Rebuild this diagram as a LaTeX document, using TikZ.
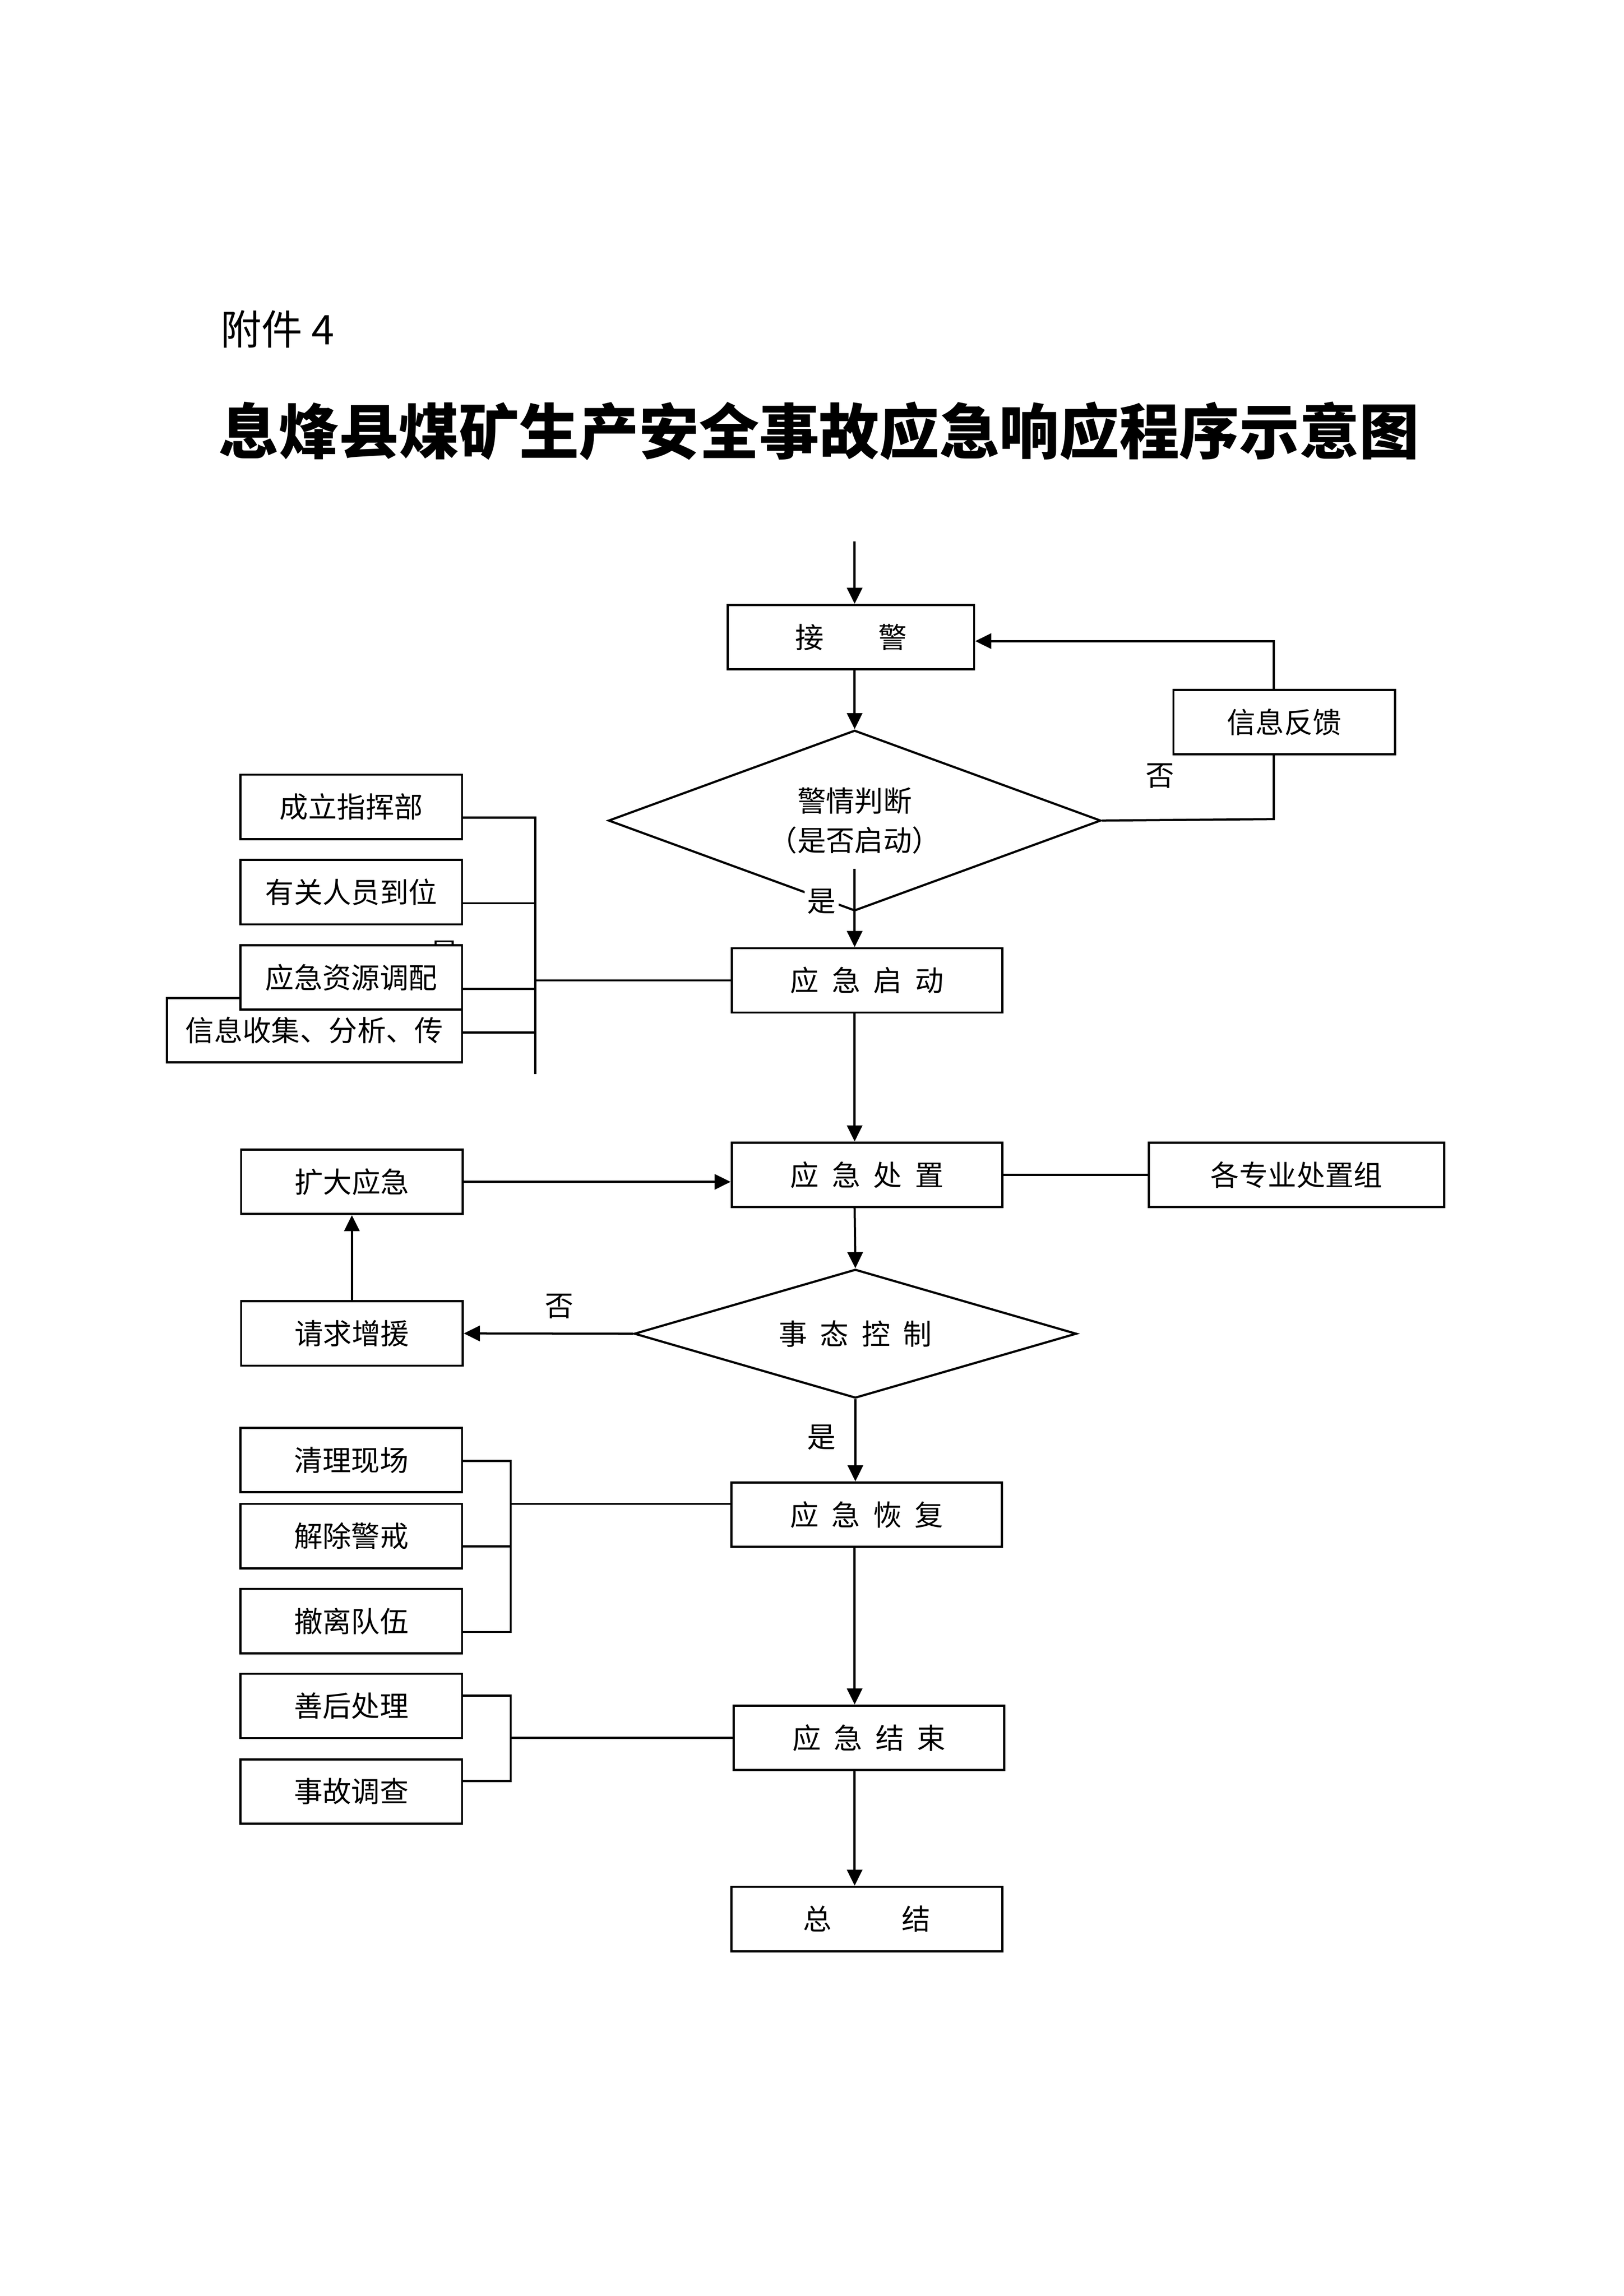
\documentclass[tikz,border=0pt]{standalone}
\usepackage{fontspec}
\setmainfont{Noto Sans CJK SC}
\usetikzlibrary{shapes.geometric,arrows.meta}
\newcommand{\kgap}{\hspace{0.45em}}
\begin{document}
\begin{tikzpicture}[x=0.541pt, y=-0.541pt,
every node/.style={font=\fontsize{10.5}{13}\selectfont, inner sep=0pt},
box/.style={draw, line width=0.8pt, fill=white, minimum height=23.6pt},
sbox/.style={box, minimum width=81.2pt},
mbox/.style={box, minimum width=99.2pt},
judge/.style={draw, line width=0.8pt, diamond, align=center},
conn/.style={line width=0.8pt},
arr/.style={conn, -{Triangle[length=5.9pt,width=5.6pt]}}]
\fill[white] (0,0) rectangle (1100,1555.75);
\useasboundingbox (0,0) rectangle (1100,1555.75);

\node[anchor=west, font=\fontsize{15}{18}\selectfont] (annex) at (149,223) {附件 4};
\node[font=\fontsize{22}{26}\selectfont\bfseries] (title) at (555,292) {息烽县煤矿生产安全事故应急响应程序示意图};

\node[box, minimum width=90.3pt] (jiejing) at (576.5,431.7) {接\hspace{1.9em}警};
\node[sbox] (fankui) at (870,489.3) {信息反馈};
\node[judge, aspect=2.73, minimum width=180.5pt, minimum height=66.2pt] (pd) at (579,556) {警情判断\\[1.5pt]（是否启动）};
\node (no1) at (786,525.6) {否};
\node[fill=white, inner sep=1pt] (yes1) at (556.7,610.8) {是};

\node (yes0) at (301,646) {是};
\node[sbox] (s1) at (238,546.7) {成立指挥部};
\node[sbox] (s2) at (238,604.5) {有关人员到位};
\node[box, minimum width=108.2pt] (s4) at (213,698) {信息收集、分析、传};
\node[sbox] (s3) at (238,662.2) {应急资源调配};
\node[mbox] (qidong) at (587.4,664.3) {应\kgap 急\kgap 启\kgap 动};

\node[mbox] (chuzhi) at (587.4,796) {应\kgap 急\kgap 处\kgap 置};
\node[box, minimum width=108.2pt] (zhuanye) at (878.4,796) {各专业处置组};
\node[sbox] (kuoda) at (238.4,800.8) {扩大应急};
\node[sbox] (qingqiu) at (238.4,903.5) {请求增援};
\node[judge, aspect=3.43, minimum width=162.1pt, minimum height=47.2pt] (kz) at (579.5,903.7) {事\kgap 态\kgap 控\kgap 制};
\node (no2) at (379,885) {否};
\node (yes2) at (556.6,974) {是};

\node[mbox] (huifu) at (587.2,1026.3) {应\kgap 急\kgap 恢\kgap 复};
\node[sbox] (c1) at (238,989.3) {清理现场};
\node[sbox] (c2) at (238,1040.8) {解除警戒};
\node[sbox] (c3) at (238,1098.4) {撤离队伍};

\node[mbox] (jieshu) at (588.7,1177.5) {应\kgap 急\kgap 结\kgap 束};
\node[sbox] (d1) at (238,1155.9) {善后处理};
\node[sbox] (d2) at (238,1213.9) {事故调查};
\node[mbox] (zongjie) at (587.3,1300.3) {总\hspace{2.45em}结};

\coordinate (col) at (579,0);
\coordinate (start) at (579,366.8);
\coordinate (fbr) at (863,555);
\coordinate (fbt) at (863,434.4);
\coordinate (yesgo) at (579,588.7);
\draw[arr] (start) -- (start |- jiejing.north);
\draw[arr] (jiejing.south -| col) -- (pd.north);
\draw[conn] (pd.east) -- (fbr) -- (fbr |- fankui.south);
\draw[arr] (fbt |- fankui.north) -- (fbt) -- (fbt -| jiejing.east);
\draw[arr] (yesgo) -- (yesgo |- qidong.north);

\coordinate (a1) at (362.7,554);
\coordinate (a2) at (362.7,612);
\coordinate (a3) at (362.7,670);
\coordinate (a4) at (362.7,699.5);
\coordinate (a5) at (362.7,727.7);
\draw[conn] (a1 -| s1.east) -- (a1) -- (a5);
\draw[conn] (a2 -| s2.east) -- (a2);
\draw[conn] (a3 -| s3.east) -- (a3);
\draw[conn] (a4 -| s4.east) -- (a4);
\draw[conn] (qidong.west) -- (qidong.west -| a1);

\draw[arr] (qidong.south -| col) -- (chuzhi.north -| col);
\draw[conn] (chuzhi.east) -- (zhuanye.west);
\draw[arr] (kuoda.east) -- (kuoda.east -| chuzhi.west);
\draw[arr] (qingqiu.north) -- (kuoda.south);
\draw[arr] (kz.west) -- (qingqiu.east);
\draw[arr] (chuzhi.south -| col) -- (kz.north);
\draw[arr] (kz.south) -- (huifu.north -| kz.south);

\coordinate (e1) at (346,990);
\coordinate (e2) at (346,1047.8);
\coordinate (e3) at (346,1105.8);
\coordinate (em) at (346,1019);
\draw[conn] (e1 -| c1.east) -- (e1) -- (e3) -- (e3 -| c3.east);
\draw[conn] (e2 -| c2.east) -- (e2);
\draw[conn] (em) -- (em -| huifu.west);
\draw[arr] (huifu.south -| col) -- (jieshu.north -| col);

\coordinate (f1) at (346,1148.8);
\coordinate (f2) at (346,1206.8);
\draw[conn] (f1 -| d1.east) -- (f1) -- (f2) -- (f2 -| d2.east);
\draw[conn] (jieshu.west -| f1) -- (jieshu.west);
\draw[arr] (jieshu.south -| col) -- (zongjie.north -| col);
\end{tikzpicture}
\end{document}
